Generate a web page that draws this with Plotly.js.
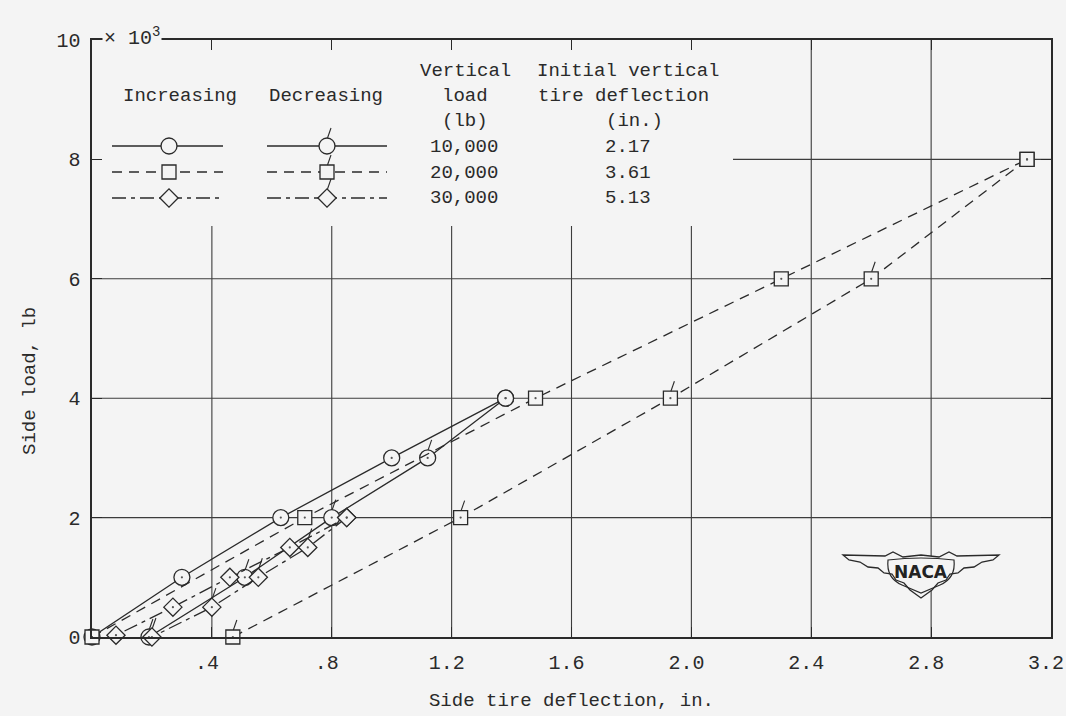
<!DOCTYPE html>
<html><head><meta charset="utf-8">
<script src="https://cdn.plot.ly/plotly-3.0.1.min.js"></script>
<style>html,body{margin:0;padding:0;background:#f4f4f4}</style>
</head><body><div id="chart" style="width:1066px;height:716px"></div>
<script>
// ---- Data: side tire deflection (in.) and side load (thousands of lb) ----
const load10k_inc_x = [0, 0.30, 0.63, 1.00, 1.38];
const load10k_inc_y = [0, 1.0, 2.0, 3.0, 4.0];
const load10k_dec_x = [1.38, 1.12, 0.80, 0.51, 0.19];
const load10k_dec_y = [4.0, 3.0, 2.0, 1.0, 0];
const load20k_inc_x = [0, 0.71, 1.48, 2.30, 3.12];
const load20k_inc_y = [0, 2.0, 4.0, 6.0, 8.0];
const load20k_dec_x = [3.12, 2.60, 1.93, 1.23, 0.47];
const load20k_dec_y = [8.0, 6.0, 4.0, 2.0, 0];
const load30k_inc_x = [0.03, 0.08, 0.27, 0.46, 0.66, 0.85];
const load30k_inc_y = [-0.15, 0.03, 0.5, 1.0, 1.5, 2.0];
const load30k_dec_x = [0.85, 0.72, 0.555, 0.40, 0.20];
const load30k_dec_y = [2.0, 1.5, 1.0, 0.5, 0];

const xTickVals = [0.4, 0.8, 1.2, 1.6, 2.0, 2.4, 2.8, 3.2];
const xTickText = ['.4', '.8', '1.2', '1.6', '2.0', '2.4', '2.8', '3.2'];
const yTickVals = [0, 2, 4, 6, 8, 10];
const yTickText = ['0', '2', '4', '6', '8', '10'];
const legendLoads = ['10,000', '20,000', '30,000'];
const legendDeflections = ['2.17', '3.61', '5.13'];

// ---- Styling ----
const BG = '#f4f4f4', INK = '#2a2a2a', GRID = '#3c3c3c';
const MONO = 'Liberation Mono, Courier New, monospace';
const W = 1066, H = 716, ML = 92, MR = 15, MT = 40, MB = 79;
const PW = W - ML - MR, PH = H - MT - MB;
const XMAX = 3.2, YMAX = 10;
const X = px => (px - ML) / PW;
const Y = py => (H - MB - py) / PH;
const LEG_RIGHT = 733, LEG_BOTTOM = 226;   // blank legend box (pixels)

const dashes = {solid: 'solid', dash: '10px,7px', dashdot: '14px,5px,4px,5px'};
const series = [
  {xi: load10k_inc_x, yi: load10k_inc_y, xd: load10k_dec_x, yd: load10k_dec_y, sym: 'circle', size: 16, dash: dashes.solid, top: 8},
  {xi: load20k_inc_x, yi: load20k_inc_y, xd: load20k_dec_x, yd: load20k_dec_y, sym: 'square', size: 14, dash: dashes.dash, top: 7},
  {xi: load30k_inc_x, yi: load30k_inc_y, xd: load30k_dec_x, yd: load30k_dec_y, sym: 'diamond', size: 14, dash: dashes.dashdot, top: 9}
];

const traces = [];
const annotations = [];
const shapes = [];

// gridlines (interrupted by the legend box)
xTickVals.forEach(v => {
  if (v >= XMAX) return;
  const px = ML + v / XMAX * PW;
  shapes.push({type: 'line', layer: 'below', xref: 'x', yref: 'paper', x0: v, x1: v, y0: 0,
    y1: px < LEG_RIGHT ? Y(LEG_BOTTOM) : 1, line: {color: GRID, width: 1.1}});
});
yTickVals.forEach(v => {
  if (v <= 0 || v >= YMAX) return;
  const py = H - MB - v / YMAX * PH;
  shapes.push({type: 'line', layer: 'below', xref: 'paper', yref: 'y', y0: v, y1: v,
    x0: py < LEG_BOTTOM ? X(LEG_RIGHT) : 0, x1: 1, line: {color: GRID, width: 1.1}});
});

series.forEach((s, k) => {
  [['inc', s.xi, s.yi], ['dec', s.xd, s.yd]].forEach(([kind, xs, ys]) => {
    traces.push({
      type: 'scatter', mode: 'lines+markers', x: xs, y: ys, cliponaxis: false,
      name: legendLoads[k] + ' ' + kind, showlegend: false, hoverinfo: 'skip',
      line: {color: INK, width: 1.3, dash: s.dash},
      marker: {symbol: s.sym, size: s.size, color: BG, line: {color: INK, width: 1.3}}
    });
  });
  // flags on decreasing-load points
  s.xd.slice(1).forEach((x, i) => {
    shapes.push({type: 'line', xref: 'x', yref: 'y', xsizemode: 'pixel', ysizemode: 'pixel',
      xanchor: x, yanchor: s.yd[i + 1], x0: 0.5, x1: 4, y0: s.top, y1: s.top + 10,
      line: {color: INK, width: 1.1}});
  });
});
// centre dots
const allX = [], allY = [];
series.forEach(s => { allX.push(...s.xi, ...s.xd); allY.push(...s.yi, ...s.yd); });
traces.push({type: 'scatter', mode: 'markers', x: allX, y: allY, cliponaxis: false, showlegend: false,
  hoverinfo: 'skip', marker: {size: 2.2, color: '#555'}});

// ---- Text annotations ----
function txt(t, px, py, opts) {
  return Object.assign({text: t, x: X(px), y: Y(py), xref: 'paper', yref: 'paper', showarrow: false,
    font: {family: MONO, size: 19, color: INK}, xanchor: 'center', yanchor: 'middle'}, opts || {});
}
annotations.push(txt('Increasing', 180, 96));
annotations.push(txt('Decreasing', 326, 96));
annotations.push(txt('Vertical', 465, 71));
annotations.push(txt('load', 465, 96));
annotations.push(txt('(lb)', 465, 121));
annotations.push(txt('Initial vertical', 628, 71));
annotations.push(txt('tire deflection', 623, 96));
annotations.push(txt('(in.)', 634, 121));
legendLoads.forEach((t, i) => annotations.push(txt(t, 464, 147 + i * 25.5)));
legendDeflections.forEach((t, i) => annotations.push(txt(t, 628, 147 + i * 25.5)));
annotations.push(txt('× 10<sup>3</sup>', 102, 37, {xanchor: 'left', bgcolor: BG, borderpad: 1,
  font: {family: MONO, size: 20, color: INK}}));
annotations.push(txt('Side load, lb', 30, 381, {textangle: -90}));
annotations.push(txt('<b>NACA</b>', 921, 572, {font: {family: 'DejaVu Sans', size: 17, color: '#222'}}));

// ---- Legend samples ----
function markerShape(sym, cx, cy) {
  const base = {xref: 'paper', yref: 'paper', fillcolor: BG, line: {color: INK, width: 1.3}};
  if (sym === 'circle') return Object.assign({type: 'circle', x0: X(cx - 8), x1: X(cx + 8), y0: Y(cy + 8), y1: Y(cy - 8)}, base);
  if (sym === 'square') return Object.assign({type: 'rect', x0: X(cx - 7), x1: X(cx + 7), y0: Y(cy + 7), y1: Y(cy - 7)}, base);
  const r = 9.1;
  return Object.assign({type: 'path', path: `M ${X(cx - r)},${Y(cy)} L ${X(cx)},${Y(cy - r)} L ${X(cx + r)},${Y(cy)} L ${X(cx)},${Y(cy + r)} Z`}, base);
}
const rowY = [146, 172, 198];
series.forEach((s, i) => {
  [[112, 223, 169, false], [267, 387, 327, true]].forEach(([a, b, m, flag]) => {
    shapes.push({type: 'line', xref: 'paper', yref: 'paper', x0: X(a), x1: X(b), y0: Y(rowY[i]), y1: Y(rowY[i]),
      line: {color: INK, width: 1.3, dash: s.dash}});
    shapes.push(markerShape(s.sym, m, rowY[i]));
    if (flag) shapes.push({type: 'line', xref: 'paper', yref: 'paper', x0: X(m + 0.5), x1: X(m + 4),
      y0: Y(rowY[i] - s.top), y1: Y(rowY[i] - s.top - 10), line: {color: INK, width: 1.1}});
  });
});

// ---- NACA wings logo ----
const P = (a, b) => X(a) + ',' + Y(b);
const outer = [[843,555],[885,556],[893,552],[903,557],[921,555],[939,557],[949,552],[957,556],[999,555],
  [993,560],[982,562],[974,567],[964,568],[958,573],[950,574],[946,580],[938,583],[932,590],[921,598],
  [910,590],[904,583],[896,580],[892,574],[884,573],[878,568],[868,567],[860,562],[849,560]];
shapes.push({type: 'path', xref: 'paper', yref: 'paper', line: {color: INK, width: 1.3}, fillcolor: BG,
  path: 'M ' + outer.map(p => P(p[0], p[1])).join(' L ') + ' Z'});
shapes.push({type: 'path', xref: 'paper', yref: 'paper', line: {color: INK, width: 1.2},
  path: `M ${P(888,560)} Q ${P(921,556)} ${P(954,560)} Q ${P(956,578)} ${P(940,585)} L ${P(921,593)} L ${P(902,585)} Q ${P(886,578)} ${P(888,560)} Z`});

const axisCommon = {showgrid: false, showline: true, linecolor: INK, linewidth: 1.6,
  mirror: 'ticks', ticks: 'inside', ticklen: 10, tickwidth: 1.1, tickcolor: INK, zeroline: false,
  ticklabeloverflow: 'allow', automargin: false,
  tickfont: {family: MONO, size: 20, color: INK}, fixedrange: true};
const layout = {
  width: W, height: H, paper_bgcolor: BG, plot_bgcolor: BG,
  margin: {l: ML, r: MR, t: MT, b: MB}, showlegend: false,
  xaxis: Object.assign({}, axisCommon, {range: [0, XMAX], tickmode: 'array', tickvals: xTickVals, ticktext: xTickText,
    ticklabelstandoff: 6, ticklabelshift: -5,
    title: {text: 'Side tire deflection, in.', font: {family: MONO, size: 19, color: INK}, standoff: 19}}),
  yaxis: Object.assign({}, axisCommon, {range: [0, YMAX], tickmode: 'array', tickvals: yTickVals, ticktext: yTickText,
    ticklabelstandoff: 6}),
  annotations: annotations, shapes: shapes
};
Plotly.newPlot('chart', traces, layout, {staticPlot: true, displayModeBar: false});
</script></body></html>
